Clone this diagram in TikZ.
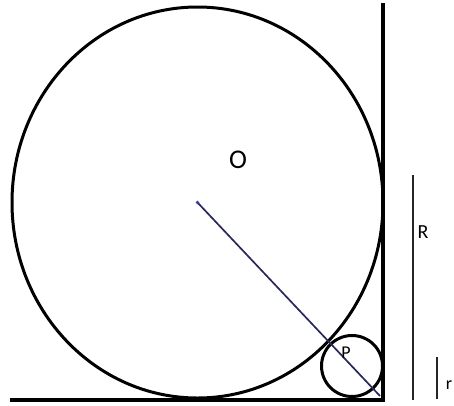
\documentclass[tikz,border=0pt]{standalone}
\usepackage{fontspec}
\setmainfont{Carlito}
\begin{document}
\begin{tikzpicture}[x=1pt,y=-1pt,
  thick line/.style={line width=3.4pt, black},
  circ line/.style={line width=3pt, black},
  mark line/.style={line width=2pt, black!85},
  radius line/.style={line width=1.7pt, color={rgb,255:red,40;green,40;blue,90}},
  lbl/.style={inner sep=0pt, font=#1}]
\useasboundingbox (0,0) rectangle (454,405);
% key points
\coordinate (O) at (197.5,202.5);
\coordinate (Pc) at (352,366);
\coordinate (wallTop) at (383,3);
\coordinate (corner) at (383,400);
\coordinate (floorLeft) at (10,400);
\coordinate (radEnd) at (380,396);
\coordinate (Rtop) at (413,175);
\coordinate (Rbot) at (413,400);
\coordinate (rtop) at (437,357);
\coordinate (rbot) at (437,399);
% walls
\draw[thick line] (wallTop) -- (corner) -- (floorLeft);
% big circle
\draw[circ line] (O) ellipse [x radius=185.5, y radius=195.5];
% small circle
\draw[circ line] (Pc) circle [radius=30.5];
% radius line
\draw[radius line] (O) -- (radEnd);
\fill[color={rgb,255:red,60;green,60;blue,160}] (O) circle [radius=1.8];
% R and r bars
\draw[mark line] (Rtop) -- (Rbot);
\draw[mark line] (rtop) -- (rbot);
% labels
\node[lbl={\fontsize{27}{27}\selectfont}] (labO) at (238,160) {O};
\node[lbl={\fontsize{18}{18}\selectfont}] (labP) at (346,353) {P};
\node[lbl={\fontsize{20}{20}\selectfont}] (labR) at (423,232) {R};
\node[lbl={\fontsize{18}{18}\selectfont}] (labr) at (449,385) {r};
\end{tikzpicture}
\end{document}
